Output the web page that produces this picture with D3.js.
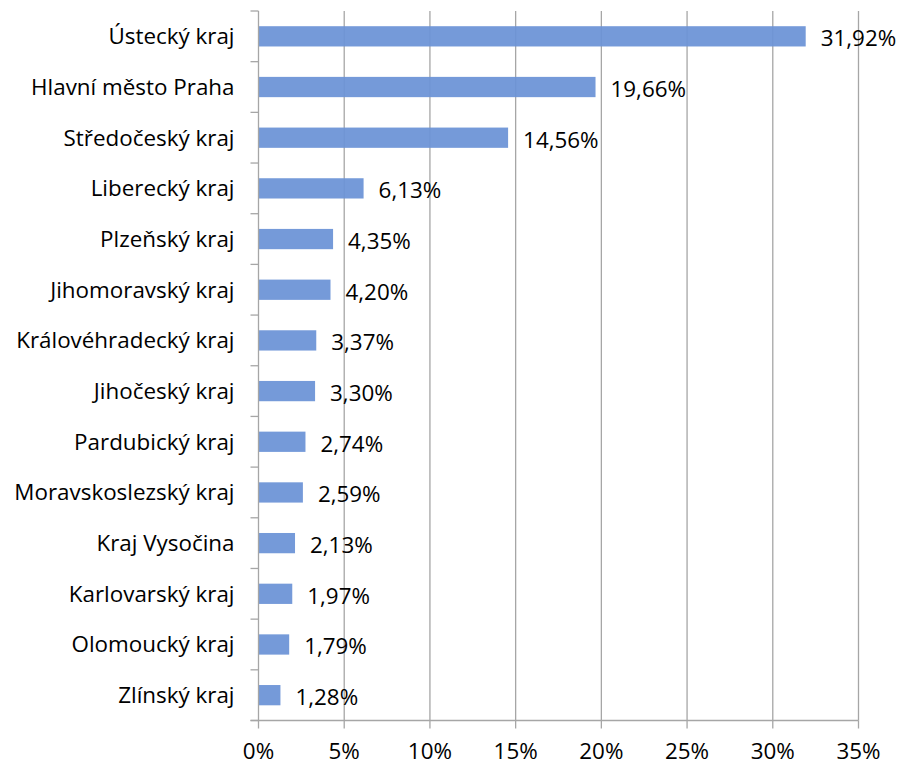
<!DOCTYPE html>
<html>
<head>
<meta charset="utf-8">
<script src="https://cdn.jsdelivr.net/npm/d3@7"></script>
<style>
  body { margin: 0; background: #fff; }
  text { font-family: "Open Sans", "Noto Sans", sans-serif; fill: #000; }
</style>
</head>
<body>
<script>
const regions = [
  "Ústecký kraj", "Hlavní město Praha", "Středočeský kraj", "Liberecký kraj",
  "Plzeňský kraj", "Jihomoravský kraj", "Královéhradecký kraj", "Jihočeský kraj",
  "Pardubický kraj", "Moravskoslezský kraj", "Kraj Vysočina", "Karlovarský kraj",
  "Olomoucký kraj", "Zlínský kraj"
];
const shares = [31.92, 19.66, 14.56, 6.13, 4.35, 4.20, 3.37, 3.30, 2.74, 2.59, 2.13, 1.97, 1.79, 1.28];
const xTicks = [0, 5, 10, 15, 20, 25, 30, 35];

const size = { width: 901, height: 766 };
const margin = { left: 258.5, right: 42.5, top: 11, bottom: 45.5 };
const fontSize = 22.4;

const svg = d3.select('body').append('svg')
  .attr('width', size.width)
  .attr('height', size.height);

const x = d3.scaleLinear()
  .domain([0, 35])
  .range([margin.left, size.width - margin.right]);

const y = d3.scaleBand()
  .domain(regions)
  .range([margin.top, size.height - margin.bottom])
  .paddingInner(0.6)
  .paddingOuter(0.3);

const axisColor = "#a6a6a6";
const fmt = v => v.toFixed(2).replace('.', ',') + '%';

// vertical gridlines
svg.append('g')
  .selectAll('line')
  .data(xTicks.slice(1))
  .enter()
  .append('line')
    .attr('x1', d => x(d)).attr('x2', d => x(d))
    .attr('y1', margin.top).attr('y2', size.height - margin.bottom)
    .attr('stroke', axisColor)
    .attr('stroke-width', 1.3);

// bars
svg.append('g')
  .selectAll('rect')
  .data(shares)
  .enter()
  .append('rect')
    .attr('x', x(0))
    .attr('y', (d, i) => y(regions[i]))
    .attr('width', d => x(d) - x(0))
    .attr('height', y.bandwidth())
    .attr('fill', '#6a92d6')
    .attr('fill-opacity', 0.93);

// value labels
svg.append('g')
  .selectAll('text')
  .data(shares)
  .enter()
  .append('text')
    .attr('x', d => x(d) + 15)
    .attr('y', (d, i) => y(regions[i]) + y.bandwidth() / 2 + 2)
    .attr('dy', '0.35em')
    .attr('font-size', fontSize)
    .text(fmt);

// left axis
const step = y.step();
const yAxis = svg.append('g');
yAxis.append('line')
  .attr('x1', x(0)).attr('x2', x(0))
  .attr('y1', margin.top).attr('y2', size.height - margin.bottom)
  .attr('stroke', axisColor).attr('stroke-width', 1.3);
yAxis.selectAll('line.tick')
  .data(d3.range(regions.length + 1))
  .enter()
  .append('line')
    .attr('class', 'tick')
    .attr('x1', x(0) - 8).attr('x2', x(0))
    .attr('y1', i => margin.top + i * step)
    .attr('y2', i => margin.top + i * step)
    .attr('stroke', axisColor).attr('stroke-width', 1.3);
yAxis.selectAll('text')
  .data(regions)
  .enter()
  .append('text')
    .attr('x', x(0) - 24)
    .attr('y', d => y(d) + y.bandwidth() / 2)
    .attr('dy', '0.35em')
    .attr('text-anchor', 'end')
    .attr('font-size', fontSize)
    .text(d => d);

// bottom axis
const yb = size.height - margin.bottom;
const xAxis = svg.append('g');
xAxis.append('line')
  .attr('x1', x(0) - 8).attr('x2', x(35))
  .attr('y1', yb).attr('y2', yb)
  .attr('stroke', axisColor).attr('stroke-width', 1.3);
xAxis.selectAll('line.tick')
  .data(xTicks)
  .enter()
  .append('line')
    .attr('class', 'tick')
    .attr('x1', d => x(d)).attr('x2', d => x(d))
    .attr('y1', yb).attr('y2', yb + 8)
    .attr('stroke', axisColor).attr('stroke-width', 1.3);
xAxis.selectAll('text')
  .data(xTicks)
  .enter()
  .append('text')
    .attr('x', d => x(d))
    .attr('y', yb + 31)
    .attr('dy', '0.35em')
    .attr('text-anchor', 'middle')
    .attr('font-size', fontSize)
    .text(d => d + '%');
</script>
</body>
</html>
